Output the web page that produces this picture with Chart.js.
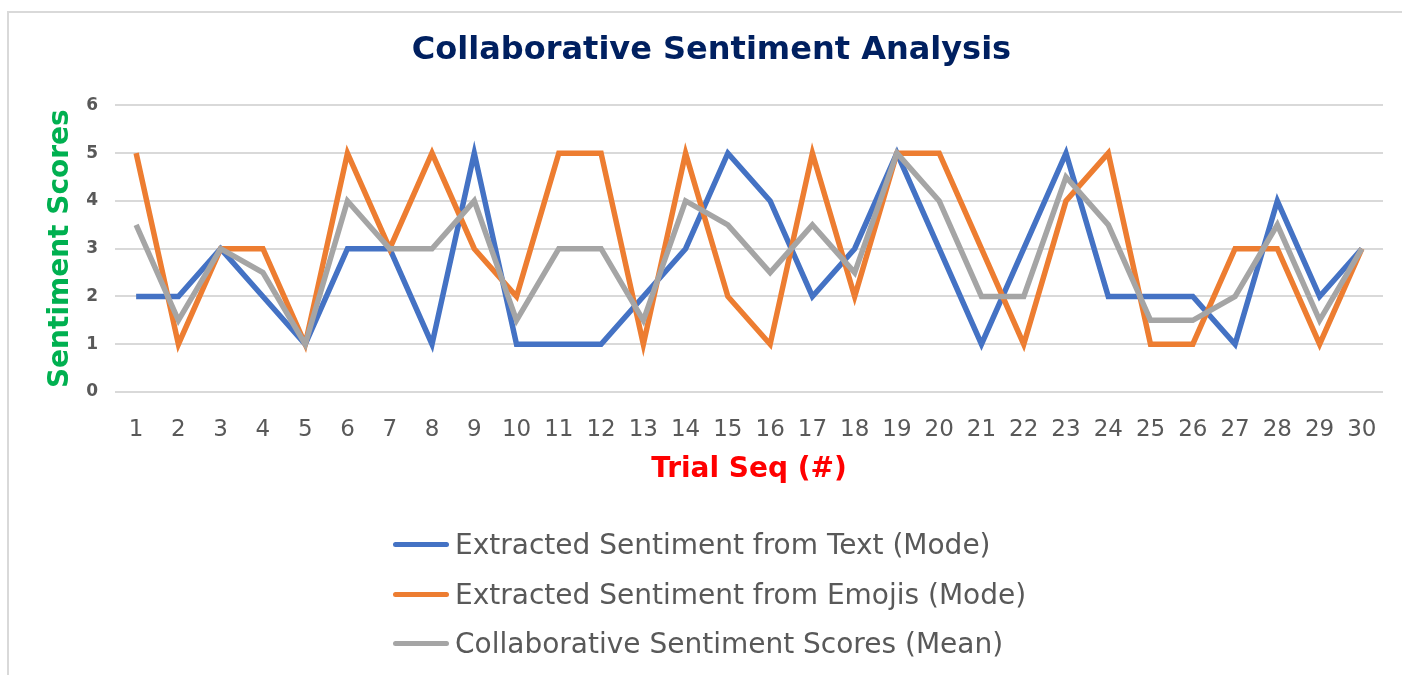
<!DOCTYPE html>
<html lang="en">
<head>
    <meta charset="UTF-8">
    <title>Collaborative Sentiment Analysis</title>
    <script src="https://cdn.jsdelivr.net/npm/chart.js"></script>
    <style>
        body { margin: 0; background: #fff; }
        #wrap { position: relative; width: 1402px; height: 675px; overflow: hidden; }
        #frame {
            position: absolute; left: 7px; top: 11px; width: 1500px; height: 800px;
            border-left: 2px solid #d9d9d9; border-top: 2px solid #d9d9d9;
            pointer-events: none;
        }
        #legend { position: absolute; left: 393px; top: 520px; font-family: "DejaVu Sans", Verdana, sans-serif; font-size: 28px; color: #595959; }
        #legend div { height: 49.5px; display: flex; align-items: center; white-space: nowrap; }
        #legend span.ln { display: inline-block; width: 56px; height: 5px; border-radius: 3px; margin-right: 6px; }
    </style>
</head>
<body>
<div id="wrap">
    <canvas id="sentChart"></canvas>
    <div id="legend"></div>
    <div id="frame"></div>
</div>

<script>
    // trial numbers on the x axis
    var trials = [];
    for (var i = 1; i <= 30; i++) trials.push(String(i));

    var textMode  = [2, 2, 3, 2, 1, 3, 3, 1, 5, 1, 1, 1, 2, 3, 5, 4, 2, 3, 5, 3, 1, 3, 5, 2, 2, 2, 1, 4, 2, 3];
    var emojiMode = [5, 1, 3, 3, 1, 5, 3, 5, 3, 2, 5, 5, 1, 5, 2, 1, 5, 2, 5, 5, 3, 1, 4, 5, 1, 1, 3, 3, 1, 3];
    var collabMean = [3.5, 1.5, 3, 2.5, 1, 4, 3, 3, 4, 1.5, 3, 3, 1.5, 4, 3.5, 2.5, 3.5, 2.5, 5, 4, 2, 2, 4.5, 3.5, 1.5, 1.5, 2, 3.5, 1.5, 3];

    var seriesNames = [
        'Extracted Sentiment from Text (Mode)',
        'Extracted Sentiment from Emojis (Mode)',
        'Collaborative Sentiment Scores (Mean)'
    ];
    var seriesColors = ['#4472C4', '#ED7D31', '#A5A5A5'];

    var font = '"DejaVu Sans", Verdana, sans-serif';

    function makeSet(idx, values, order) {
        return {
            label: seriesNames[idx],
            data: values,
            borderColor: seriesColors[idx],
            backgroundColor: seriesColors[idx],
            borderWidth: 5.5,
            pointRadius: 0,
            tension: 0,
            order: order
        };
    }

    var ctx = document.getElementById('sentChart').getContext('2d');
    var chart = new Chart(ctx, {
        type: 'line',
        data: {
            labels: trials,
            datasets: [
                makeSet(0, textMode, 3),
                makeSet(1, emojiMode, 2),
                makeSet(2, collabMean, 1)
            ]
        },
        options: {
            responsive: true,
            maintainAspectRatio: false,
            animation: false,
            layout: { padding: { left: 40, right: 19, top: 0, bottom: 184 } },
            plugins: {
                legend: { display: false },
                tooltip: { enabled: false },
                title: {
                    display: true,
                    text: 'Collaborative Sentiment Analysis',
                    color: '#002060',
                    font: { family: font, size: 32, weight: 'bold' },
                    padding: { top: 31, bottom: 36 }
                }
            },
            scales: {
                x: {
                    offset: true,
                    grid: { display: false, drawTicks: false },
                    border: { display: false },
                    ticks: { color: '#595959', font: { family: font, size: 23 }, padding: 24, maxRotation: 0, autoSkip: false },
                    title: {
                        display: true,
                        text: 'Trial Seq (#)',
                        color: '#FF0000',
                        font: { family: font, size: 28, weight: 'bold' },
                        padding: { top: 12, bottom: 4 }
                    },
                    afterFit: function(scale) { scale.height = 99; }
                },
                y: {
                    min: 0,
                    max: 6,
                    ticks: { stepSize: 1, color: '#595959', font: { family: font, size: 17, weight: 'bold' }, padding: 17 },
                    grid: { color: '#d9d9d9', lineWidth: 2, drawTicks: false },
                    border: { display: false },
                    title: {
                        display: true,
                        text: 'Sentiment Scores',
                        color: '#00B050',
                        font: { family: font, size: 28, weight: 'bold' },
                        padding: { top: 4, bottom: 4 }
                    },
                    afterFit: function(scale) { scale.width = 75; }
                }
            }
        }
    });

    // legend built from the datasets, one entry per line
    var legendBox = document.getElementById('legend');
    chart.data.datasets.forEach(function(ds) {
        var row = document.createElement('div');
        var ln = document.createElement('span');
        ln.className = 'ln';
        ln.style.background = ds.borderColor;
        row.appendChild(ln);
        row.appendChild(document.createTextNode(ds.label));
        legendBox.appendChild(row);
    });
</script>
</body>
</html>
